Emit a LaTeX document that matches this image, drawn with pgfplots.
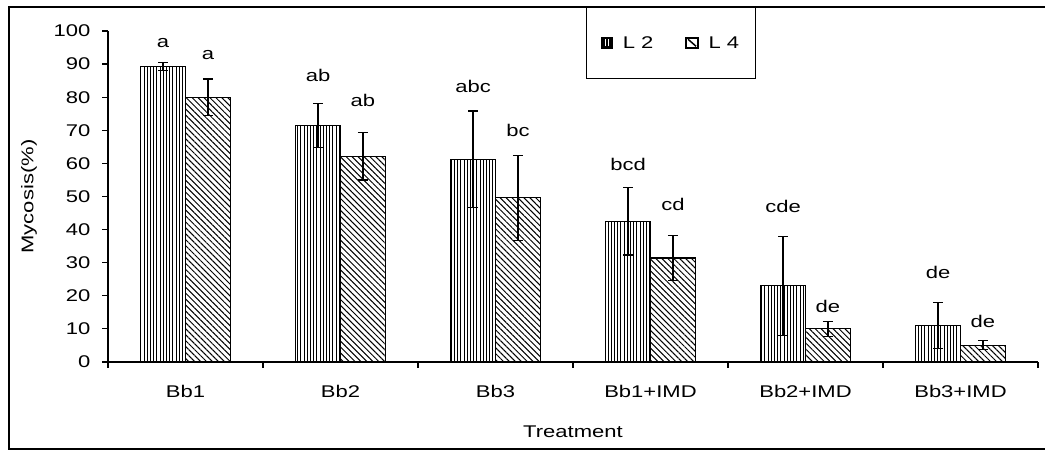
\documentclass[border=0pt]{standalone}
\usepackage{fontspec}
\setmainfont{Liberation Sans}[FakeStretch=1.3]
\usepackage{pgfplots}
\pgfplotsset{compat=1.18}
\usetikzlibrary{patterns,patterns.meta}

\pgfplotstableread{
x   y     e
0.5 89.3  1.3
1.5 71.5  6.7
2.5 61.2  14.6
3.5 42.5  10.2
4.5 23.0  15.0
5.5 11.0  7.0
}\ltwo
\pgfplotstableread{
x   y     e
0.5 80.0  5.5
1.5 62.2  7.2
2.5 49.6  12.8
3.5 31.4  6.8
4.5 10.0  2.2
5.5 5.1   1.4
}\lfour

\begin{document}
\begin{tikzpicture}[x=1bp,y=1bp]
\useasboundingbox (0,0) rectangle (1045,452);
\draw[line width=2bp] (1046,445) -- (9,445) -- (9,3) -- (1046,3);
\begin{axis}[
  at={(108bp,90bp)}, anchor=south west,
  scale only axis, width=930bp, height=331bp,
  font=\fontsize{17}{19}\selectfont,
  xmin=0, xmax=6, ymin=0, ymax=100,
  axis x line=bottom, axis y line=left,
  axis line style={-, line width=1.2bp},
  ytick={0,10,...,100},
  xtick={0.5,1.5,...,5.5},
  xticklabels={Bb1,Bb2,Bb3,Bb1+IMD,Bb2+IMD,Bb3+IMD},
  minor xtick={0,1,...,6},
  major x tick style={draw=none},
  tick align=outside,
  tick style={line width=1.2bp, black},
  major tick length=6bp, minor tick length=6bp,
  /pgf/number format/assume math mode=true,
  every tick label/.append style={font=\fontsize{17}{19}\selectfont},
  xticklabel style={yshift=-14bp},
  yticklabel style={xshift=-8bp},
  ylabel={Mycosis(\%)},
  xlabel={Treatment},
  ylabel style={at={(axis description cs:-0.085,0.5)}, anchor=center},
  xlabel style={at={(axis description cs:0.5,0)}, anchor=north, yshift=-60bp},
  ybar, bar width=0.29,
  legend columns=2,
  legend style={at={(0.514,1.0725)}, anchor=north west, draw=black, line width=1.2bp,
    inner xsep=14bp, inner ysep=27bp, column sep=0bp,
    font=\fontsize{17}{19}\selectfont,
    /tikz/every odd column/.append style={column sep=8bp},
    /tikz/every even column/.append style={column sep=30bp}},
  clip=false,
]
\addplot[draw=black, line width=1.2bp, pattern={Lines[angle=90,distance=3.2bp,line width=1bp]}, bar shift=-0.145,
  legend image code/.code={
    \fill[black] (0bp,-5bp) rectangle (11bp,6bp);
    \draw[white, line width=1.2bp] (4bp,-3bp) -- (4bp,4bp) (7bp,-3bp) -- (7bp,4bp);},
  error bars/.cd, y dir=both, y explicit,
  error bar style={line width=1.2bp, black},
  error mark options={rotate=90, mark size=5bp, line width=1.2bp, black}]
  table[x=x, y=y, y error=e] {\ltwo};
\addlegendentry{L 2}
\addplot[draw=black, line width=1.2bp, pattern={Lines[angle=-45,distance=4.2bp,line width=1bp]}, bar shift=0.145,
  legend image code/.code={
    \fill[black] (0bp,-5bp) rectangle (12bp,6bp);
    \fill[white] (2bp,-3bp) rectangle (10bp,4bp);
    \draw[black, line width=1.5bp] (2bp,4bp) -- (10bp,-3bp);},
  error bars/.cd, y dir=both, y explicit,
  error bar style={line width=1.2bp, black},
  error mark options={rotate=90, mark size=5bp, line width=1.2bp, black}]
  table[x=x, y=y, y error=e] {\lfour};
\addlegendentry{L 4}
\node at (axis cs:0.355,96.4) {a};
\node at (axis cs:0.645,92.7) {a};
\node at (axis cs:1.355,86.7) {ab};
\node at (axis cs:1.645,78.9) {ab};
\node at (axis cs:2.355,83.2) {abc};
\node at (axis cs:2.645,69.9) {bc};
\node at (axis cs:3.355,59.8) {bcd};
\node at (axis cs:3.645,47.6) {cd};
\node at (axis cs:4.355,46.9) {cde};
\node at (axis cs:4.645,16.7) {de};
\node at (axis cs:5.355,27.2) {de};
\node at (axis cs:5.645,12.4) {de};
\end{axis}
\end{tikzpicture}
\end{document}
